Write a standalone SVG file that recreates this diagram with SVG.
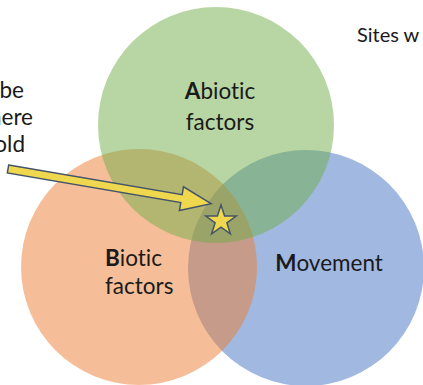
<svg xmlns="http://www.w3.org/2000/svg" width="423" height="385" viewBox="0 0 423 385">
  <style>
    .set { fill-opacity: 0.5; stroke: none; }
    .lbl { font-family: Lato, "Liberation Sans", sans-serif; font-size: 22.5px; fill: #1a1a1a; font-variant-ligatures: none; }
    .b { font-weight: bold; }
    .mark { fill: #F0D84E; stroke: #44546A; stroke-width: 1.5; stroke-linejoin: miter; }
  </style>

  <rect width="423" height="385" fill="#ffffff"/>

  <!-- side captions running off the edges -->
  <text class="lbl" x="24" y="98" text-anchor="end">be</text>
  <text class="lbl" x="33" y="125" text-anchor="end">here</text>
  <text class="lbl" x="25" y="152" text-anchor="end">old</text>
  <text class="lbl" x="357" y="42" style="font-size:20px">Sites w</text>

  <!-- the three overlapping sets -->
  <g id="movement">
    <circle class="set" cx="306" cy="268" r="118" fill="#4472C4"/>
    <text class="lbl" x="329" y="271" text-anchor="middle"><tspan class="b">M</tspan>ovement</text>
  </g>
  <g id="biotic">
    <circle class="set" cx="139" cy="267" r="118" fill="#ED7D31"/>
    <text class="lbl" x="105" y="266"><tspan class="b">B</tspan>iotic</text>
    <text class="lbl" x="105" y="294">factors</text>
  </g>
  <g id="abiotic">
    <circle class="set" cx="216" cy="125" r="118" fill="#70AD47"/>
    <text class="lbl" x="220" y="99" text-anchor="middle"><tspan class="b">A</tspan>biotic</text>
    <text class="lbl" x="220" y="130" text-anchor="middle">factors</text>
  </g>

  <!-- pointer arrow -->
  <g id="connectors">
    <polygon class="mark" transform="translate(8,169) rotate(9.7)"
             points="0,-4 176,-4 176,-12 206,0 176,12 176,4 0,4"/>
  </g>

  <!-- star at the triple overlap -->
  <g id="star">
    <polygon class="mark" transform="translate(221,221)"
             points="0,-16 3.6,-5 15.2,-4.9 5.9,1.9 9.4,12.9 0,6.1 -9.4,12.9 -5.9,1.9 -15.2,-4.9 -3.6,-5"/>
  </g>
</svg>
